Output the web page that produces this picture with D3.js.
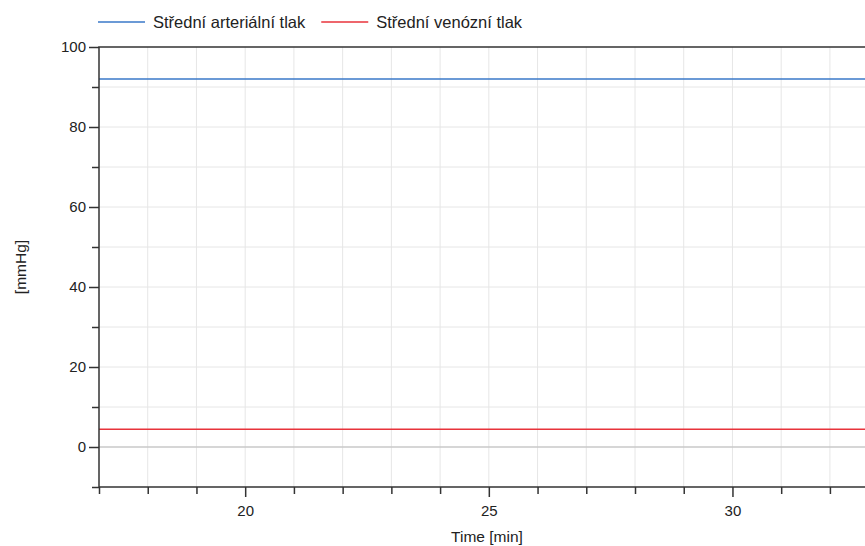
<!DOCTYPE html>
<html>
<head>
<meta charset="utf-8">
<script src="https://cdn.jsdelivr.net/npm/d3@7/dist/d3.min.js"></script>
<style>
  html, body { margin: 0; padding: 0; background: #fff; }
  svg { display: block; font-family: "Liberation Sans", Arial, sans-serif; }
</style>
</head>
<body>
<svg id="chart" width="865" height="546"></svg>
<script>
// Time samples [min] and the two mean pressures [mmHg]
const time = [17, 20, 25, 30, 32.8];
const arterial = [92, 92, 92, 92, 92];
const venous = [4.43, 4.43, 4.43, 4.43, 4.43];
const seriesNames = ["Střední arteriální tlak", "Střední venózní tlak"];
const seriesColors = ["#3a78c8", "#e8333b"];
const xTicks = [20, 25, 30];
const yTicks = [0, 20, 40, 60, 80, 100];

const svg = d3.select("#chart");
const plotLeft = 99, plotTop = 47, plotRight = 865, plotBottom = 487;
const textColor = "#222";

const x = d3.scaleLinear().domain([17, 32.72]).range([plotLeft, plotRight]);
const y = d3.scaleLinear().domain([-10, 100]).range([plotBottom, plotTop]);

const minorX = d3.range(18, 33, 1);
const minorY = d3.range(-10, 101, 10);

// grid
const grid = svg.append("g");
grid.selectAll("line.gx").data(minorX).join("line")
  .attr("x1", d => x(d)).attr("x2", d => x(d))
  .attr("y1", plotTop).attr("y2", plotBottom)
  .attr("stroke", "#e6e6e6").attr("stroke-width", 1);
grid.selectAll("line.gy").data(minorY.filter(d => d !== 0 && d !== -10 && d !== 100)).join("line")
  .attr("x1", plotLeft).attr("x2", plotRight)
  .attr("y1", d => y(d)).attr("y2", d => y(d))
  .attr("stroke", "#e6e6e6").attr("stroke-width", 1);
// zero line
grid.append("line")
  .attr("x1", plotLeft).attr("x2", plotRight)
  .attr("y1", y(0)).attr("y2", y(0))
  .attr("stroke", "#c8c8c8").attr("stroke-width", 1.5);

// series
const line = d3.line().x((d, i) => x(time[i])).y(d => y(d));
[arterial, venous].forEach((vals, i) => {
  svg.append("path").datum(vals)
    .attr("d", line)
    .attr("fill", "none")
    .attr("stroke", seriesColors[i])
    .attr("stroke-width", 1.5);
});

// frame
svg.append("path")
  .attr("d", `M${plotRight},${plotTop}H${plotLeft}V${plotBottom}H${plotRight}`)
  .attr("fill", "none").attr("stroke", "#333").attr("stroke-width", 1.5);

// y axis: major labelled ticks and minor ticks
const yMajor = d3.axisLeft(y).tickValues(yTicks).tickSize(10).tickPadding(3).tickFormat(d3.format("d"));
const yMinor = d3.axisLeft(y).tickValues(minorY.filter(d => !yTicks.includes(d))).tickSize(7).tickFormat("");
[yMajor, yMinor].forEach(ax => {
  const g = svg.append("g").attr("transform", `translate(${plotLeft},0)`).call(ax);
  g.select(".domain").remove();
  g.selectAll(".tick line").attr("stroke", "#333").attr("stroke-width", 1.5);
  g.selectAll(".tick text").attr("fill", textColor).style("font-size", "15px").style("font-family", "Liberation Sans, Arial, sans-serif");
});

// x axis
const xMajor = d3.axisBottom(x).tickValues(xTicks).tickSize(10).tickPadding(8).tickFormat(d3.format("d"));
const xMinor = d3.axisBottom(x).tickValues(minorX.filter(d => !xTicks.includes(d)).concat([17])).tickSize(7).tickFormat("");
[xMajor, xMinor].forEach(ax => {
  const g = svg.append("g").attr("transform", `translate(0,${plotBottom})`).call(ax);
  g.select(".domain").remove();
  g.selectAll(".tick line").attr("stroke", "#333").attr("stroke-width", 1.5);
  g.selectAll(".tick text").attr("fill", textColor).style("font-size", "15px").style("font-family", "Liberation Sans, Arial, sans-serif");
});

// axis titles
svg.append("text")
  .attr("x", 487).attr("y", 542)
  .attr("text-anchor", "middle")
  .attr("fill", textColor).style("font-size", "15.5px")
  .text("Time [min]");
svg.append("text")
  .attr("transform", `translate(26,267) rotate(-90)`)
  .attr("text-anchor", "middle")
  .attr("fill", textColor).style("font-size", "15.5px")
  .text("[mmHg]");

// legend: line sample followed by label, items laid out left to right
let legendCursor = 98;
seriesNames.forEach((name, i) => {
  const g = svg.append("g").attr("transform", `translate(${legendCursor},22)`);
  g.append("line").attr("x1", 0).attr("x2", 47).attr("y1", 0).attr("y2", 0)
    .attr("stroke", seriesColors[i]).attr("stroke-width", 1.5);
  const t = g.append("text").attr("x", 55).attr("y", 6)
    .attr("fill", textColor).style("font-size", "16.5px")
    .text(name);
  legendCursor += 55 + t.node().getComputedTextLength() + 16;
});
</script>
</body>
</html>
